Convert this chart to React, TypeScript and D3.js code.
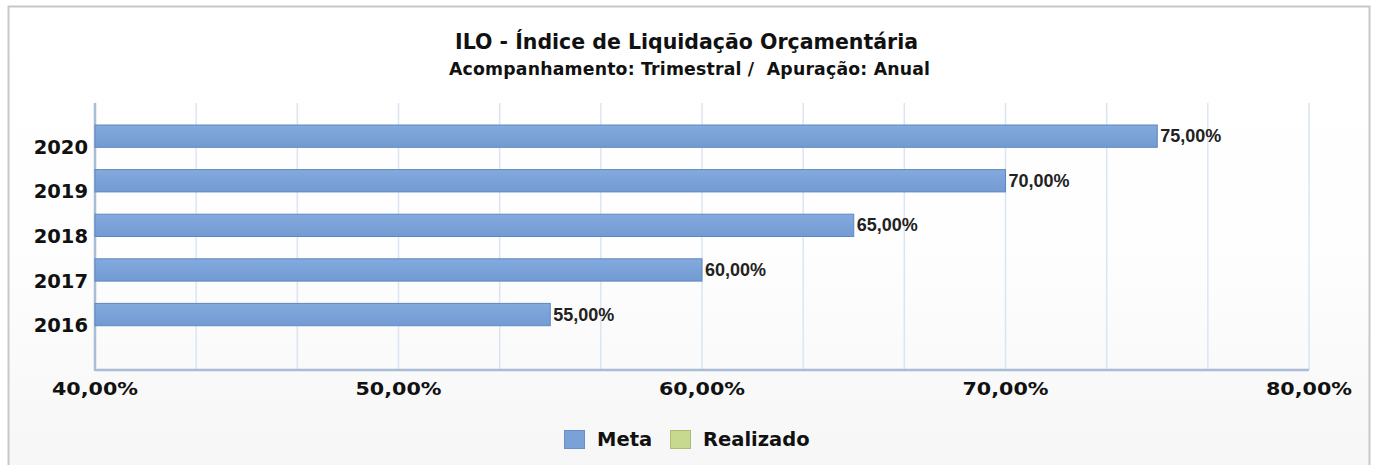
import React from "react";
import * as d3 from "d3";

const title = "ILO - Índice de Liquidação Orçamentária";
const subtitle = "Acompanhamento: Trimestral /  Apuração: Anual";
const categories = ["2020", "2019", "2018", "2017", "2016"];
const metaValues = [75, 70, 65, 60, 55];
const realizadoValues: (number | null)[] = [null, null, null, null, null];
const xTicks = [40, 50, 60, 70, 80];
const seriesNames = ["Meta", "Realizado"];
const seriesColors = ["#7ba2d8", "#c7d98e"];

const W = 1377;
const H = 465;

export default function App() {
  const x = d3.scaleLinear().domain([40, 80]).range([95, 1309]);
  const plotTop = 103;
  const plotBottom = 370;
  const y = d3.scaleBand().domain(categories).range([125, 348]).paddingInner(0).paddingOuter(0);
  const sub = d3.scaleBand().domain(seriesNames).range([0, y.bandwidth()]);
  const grid = d3.range(40, 80.0001, 40 / 12);
  const fmt = (v: number) => v.toFixed(2).replace(".", ",") + "%";
  const ff = "'DejaVu Sans', Verdana, sans-serif";

  return (
    <svg width={W} height={H} style={{ position: "absolute", left: 0, top: 0 }}>
      <defs>
        <linearGradient id="bg" x1="0" y1="0" x2="0" y2="1">
          <stop offset="0" stopColor="#ffffff" />
          <stop offset="0.5" stopColor="#fefefe" />
          <stop offset="1" stopColor="#f6f6f6" />
        </linearGradient>
        <linearGradient id="bar" x1="0" y1="0" x2="0" y2="1">
          <stop offset="0" stopColor="#84aadd" />
          <stop offset="1" stopColor="#729bd3" />
        </linearGradient>
      </defs>
      <rect x={0} y={0} width={W} height={H} fill="#ffffff" />
      <rect x={8.5} y={6.5} width={1361} height={470} fill="url(#bg)" stroke="#c8c8c8" strokeWidth={2} />
      <text x={686.5} y={49} textAnchor="middle" fontFamily={ff} fontWeight="bold" fontSize={20.5} fill="#111" textLength={463}>
        {title}
      </text>
      <text x={689.5} y={75} textAnchor="middle" fontFamily={ff} fontWeight="bold" fontSize={17.3} fill="#111" textLength={481} style={{ whiteSpace: "pre" }}>
        {subtitle}
      </text>
      {grid.map((g, i) => (
        <line key={i} x1={x(g)} x2={x(g)} y1={plotTop} y2={plotBottom} stroke="#dbe5f1" strokeWidth={1.5} />
      ))}
      <line x1={x(40)} x2={x(40)} y1={plotTop} y2={plotBottom + 1} stroke="#a9bdd6" strokeWidth={2.5} />
      <line x1={x(40)} x2={x(80)} y1={plotBottom} y2={plotBottom} stroke="#a9bdd6" strokeWidth={2.5} />
      {categories.map((c, i) => {
        const by = (y(c) as number) + (sub("Meta") as number);
        const bh = sub.bandwidth();
        return (
          <g key={c}>
            <rect x={x(40)} y={by} width={x(metaValues[i]) - x(40)} height={bh} fill="url(#bar)" stroke="#5f87bf" strokeWidth={1} />
            <text x={x(metaValues[i]) + 3} y={by + bh / 2 + 6} fontFamily="'Liberation Sans', Arial, sans-serif" fontWeight="bold" fontSize={18} fill="#222">
              {fmt(metaValues[i])}
            </text>
            {realizadoValues[i] != null && (
              <rect x={x(40)} y={(y(c) as number) + (sub("Realizado") as number)} width={x(realizadoValues[i] as number) - x(40)} height={bh} fill={seriesColors[1]} />
            )}
            <text x={88} y={(y(c) as number) + y.bandwidth() / 2 + 6.5} textAnchor="end" fontFamily={ff} fontWeight="bold" fontSize={19.5} fill="#111">
              {c}
            </text>
          </g>
        );
      })}
      {xTicks.map((t) => (
        <text key={t} x={x(t)} y={395} textAnchor="middle" fontFamily={ff} fontWeight="bold" fontSize={17} fill="#111" textLength={86} lengthAdjust="spacingAndGlyphs">
          {fmt(t)}
        </text>
      ))}
      <g>
        <rect x={564.5} y={430.5} width={20} height={18} fill={seriesColors[0]} stroke="#6a8fc4" />
        <text x={597} y={446} fontFamily={ff} fontWeight="bold" fontSize={19.5} fill="#111">{seriesNames[0]}</text>
        <rect x={670.5} y={430.5} width={20} height={18} fill={seriesColors[1]} stroke="#aabd72" />
        <text x={703} y={446} fontFamily={ff} fontWeight="bold" fontSize={19.5} fill="#111">{seriesNames[1]}</text>
      </g>
    </svg>
  );
}
